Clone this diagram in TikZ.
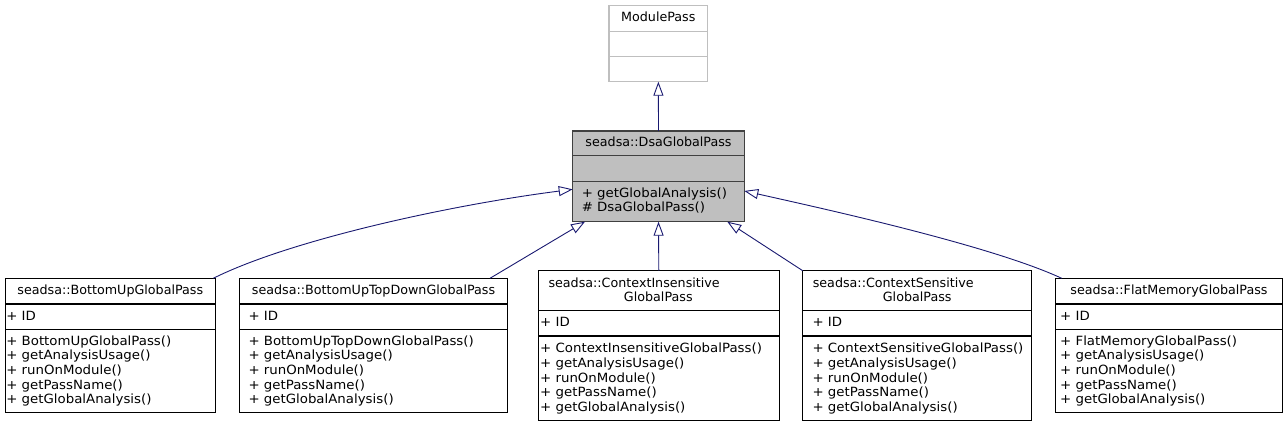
\documentclass[tikz,border=0pt]{standalone}
\usepackage{fontspec}
\setmainfont{DejaVu Sans}
\newfontfamily\memfont[FakeStretch=1.05]{DejaVu Sans}
\usetikzlibrary{arrows.meta}
\definecolor{edgec}{HTML}{191970}
\definecolor{grayfill}{HTML}{BFBFBF}
\definecolor{darkborder}{HTML}{404040}
\begin{document}
\begin{tikzpicture}[x=1pt,y=-1pt,
  every node/.style={font=\fontsize{12.7}{14.6}\selectfont, inner sep=0pt, outer sep=0pt},
  cls/.style={draw=black, line width=1.2pt, fill=white, anchor=north west},
  base/.style={draw=darkborder, line width=1.2pt, fill=grayfill, anchor=north west},
  ext/.style={draw=grayfill, line width=1.2pt, fill=white, anchor=north west},
  sep/.style={line width=1.2pt, draw=black},
  sepgray/.style={line width=1.2pt, draw=grayfill},
  sepdark/.style={line width=1.2pt, draw=darkborder},
  txt/.style={anchor=base west, font=\memfont\fontsize{12.7}{14.6}\selectfont},
  ttl/.style={anchor=base},
  ttlw/.style={anchor=base west},
  inh/.style={draw=edgec, line width=0.9pt, -{Triangle[open, length=14pt, width=10pt]}}
]
\useasboundingbox (0,0) rectangle (1288,427);

% ModulePass
\node[ext, minimum width=98.7pt, minimum height=76pt] (mp) at (609,5.7) {};
\draw[sepgray] (609,31.7) -- (707.7,31.7);
\draw[sepgray] (609,56.7) -- (707.7,56.7);
\node[ttl] (mpt) at (658.3,21.3) {ModulePass};

% DsaGlobalPass
\node[base, minimum width=171.6pt, minimum height=90.7pt] (dsa) at (572.7,131) {};
\draw[sepdark] (572.7,155.7) -- (744.3,155.7);
\draw[sepdark] (572.7,181.7) -- (744.3,181.7);
\node[ttl] (dsat) at (658.5,146.7) {seadsa::DsaGlobalPass};
\node[txt] (dsam1) at (581.8,197.3) {+ getGlobalAnalysis()};
\node[txt] (dsam2) at (581.8,211.9) {\# DsaGlobalPass()};

% BottomUpGlobalPass
\node[cls, minimum width=210pt, minimum height=134.4pt] (b1) at (5.3,278.3) {};
\draw[sep] (5.3,304) -- (215.3,304);
\draw[sep] (5.3,329.3) -- (215.3,329.3);
\node[ttl] (b1t) at (110.3,295) {seadsa::BottomUpGlobalPass};
\node[txt] (b1a) at (6.3,320.3) {+ ID};
\node[txt] (b1m1) at (6.3,345.3) {+ BottomUpGlobalPass()};
\node[txt] (b1m2) at (6.3,359.9) {+ getAnalysisUsage()};
\node[txt] (b1m3) at (6.3,374.5) {+ runOnModule()};
\node[txt] (b1m4) at (6.3,389.1) {+ getPassName()};
\node[txt] (b1m5) at (6.3,403.7) {+ getGlobalAnalysis()};

% BottomUpTopDownGlobalPass
\node[cls, minimum width=268.4pt, minimum height=134.4pt] (b2) at (239.3,278.3) {};
\draw[sep] (239.3,304) -- (507.7,304);
\draw[sep] (239.3,329.3) -- (507.7,329.3);
\node[ttl] (b2t) at (373.5,295) {seadsa::BottomUpTopDownGlobalPass};
\node[txt] (b2a) at (248.5,320.3) {+ ID};
\node[txt] (b2m1) at (248.5,345.3) {+ BottomUpTopDownGlobalPass()};
\node[txt] (b2m2) at (248.5,359.9) {+ getAnalysisUsage()};
\node[txt] (b2m3) at (248.5,374.5) {+ runOnModule()};
\node[txt] (b2m4) at (248.5,389.1) {+ getPassName()};
\node[txt] (b2m5) at (248.5,403.7) {+ getGlobalAnalysis()};

% ContextInsensitiveGlobalPass
\node[cls, minimum width=241pt, minimum height=150pt] (b3) at (538.3,270.7) {};
\draw[sep] (538.3,310.7) -- (779.3,310.7);
\draw[sep] (538.3,336) -- (779.3,336);
\node[ttlw] (b3t1) at (548.5,287.3) {seadsa::ContextInsensitive};
\node[ttl] (b3t2) at (658.3,302) {GlobalPass};
\node[txt] (b3a) at (540.2,326.7) {+ ID};
\node[txt] (b3m1) at (540.2,353) {+ ContextInsensitiveGlobalPass()};
\node[txt] (b3m2) at (540.2,367.6) {+ getAnalysisUsage()};
\node[txt] (b3m3) at (540.2,382.2) {+ runOnModule()};
\node[txt] (b3m4) at (540.2,396.8) {+ getPassName()};
\node[txt] (b3m5) at (540.2,411.4) {+ getGlobalAnalysis()};

% ContextSensitiveGlobalPass
\node[cls, minimum width=229pt, minimum height=150pt] (b4) at (802.7,270.7) {};
\draw[sep] (802.7,310.7) -- (1031.7,310.7);
\draw[sep] (802.7,336) -- (1031.7,336);
\node[ttlw] (b4t1) at (812.8,287.3) {seadsa::ContextSensitive};
\node[ttl] (b4t2) at (917.2,302) {GlobalPass};
\node[txt] (b4a) at (812.5,326.7) {+ ID};
\node[txt] (b4m1) at (812.5,353) {+ ContextSensitiveGlobalPass()};
\node[txt] (b4m2) at (812.5,367.6) {+ getAnalysisUsage()};
\node[txt] (b4m3) at (812.5,382.2) {+ runOnModule()};
\node[txt] (b4m4) at (812.5,396.8) {+ getPassName()};
\node[txt] (b4m5) at (812.5,411.4) {+ getGlobalAnalysis()};

% FlatMemoryGlobalPass
\node[cls, minimum width=226.6pt, minimum height=134pt] (b5) at (1055.7,278.3) {};
\draw[sep] (1055.7,304) -- (1282.3,304);
\draw[sep] (1055.7,329.3) -- (1282.3,329.3);
\node[ttl] (b5t) at (1169,295) {seadsa::FlatMemoryGlobalPass};
\node[txt] (b5a) at (1060.2,320.3) {+ ID};
\node[txt] (b5m1) at (1060.2,345.3) {+ FlatMemoryGlobalPass()};
\node[txt] (b5m2) at (1060.2,359.9) {+ getAnalysisUsage()};
\node[txt] (b5m3) at (1060.2,374.5) {+ runOnModule()};
\node[txt] (b5m4) at (1060.2,389.1) {+ getPassName()};
\node[txt] (b5m5) at (1060.2,403.7) {+ getGlobalAnalysis()};

% inheritance edges
\draw[inh] (dsa.north) -- (mp.south);
\draw[inh] ([xshift=-2pt]b1.north east) .. controls (290,240) and (450,205) .. ([yshift=-13pt]dsa.west);
\draw[inh] ([xshift=-17.7pt]b2.north east) -- ([xshift=12.3pt]dsa.south west);
\draw[inh] (b3.north) -- (dsa.south);
\draw[inh] (b4.north west) -- ([xshift=-17pt]dsa.south east);
\draw[inh] ([xshift=6pt]b5.north west) .. controls (990,245) and (820,208) .. ([yshift=-14.6pt]dsa.east);
\end{tikzpicture}
\end{document}
